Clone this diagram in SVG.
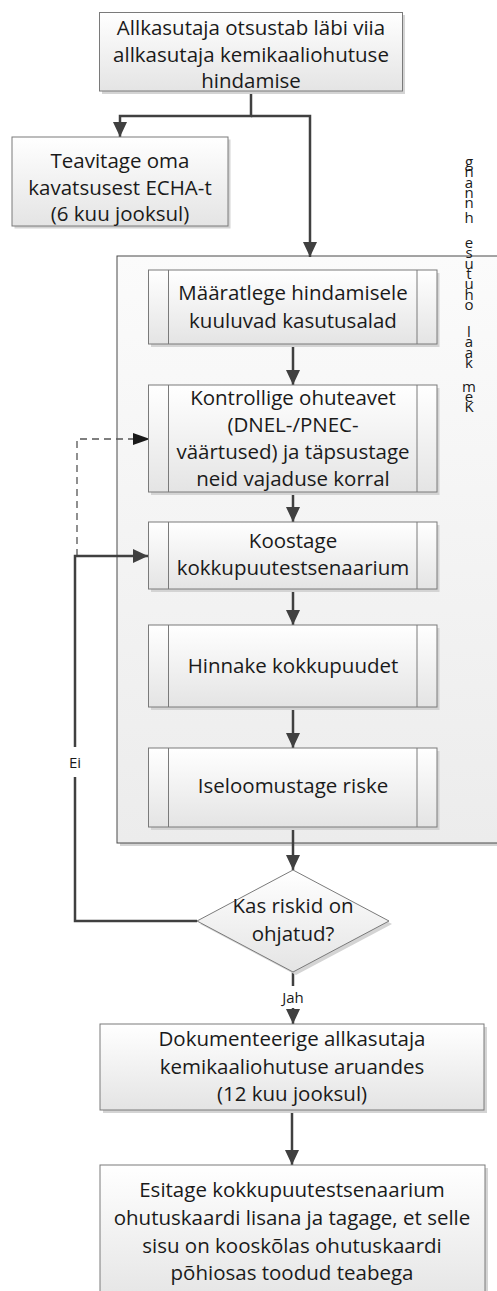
<svg xmlns="http://www.w3.org/2000/svg" width="497" height="1291" viewBox="0 0 497 1291">
<defs>
<linearGradient id="gBox" x1="0" y1="0" x2="0" y2="1">
<stop offset="0" stop-color="#ffffff"/>
<stop offset="1" stop-color="#e4e4e4"/>
</linearGradient>
<linearGradient id="gLane" x1="0" y1="0" x2="0" y2="1">
<stop offset="0" stop-color="#fbfbfb"/>
<stop offset="1" stop-color="#ececec"/>
</linearGradient>
<marker id="arr" markerUnits="userSpaceOnUse" markerWidth="16" markerHeight="16" refX="15" refY="7" orient="auto">
<path d="M0,0 L15,7 L0,14 z" fill="#404040"/>
</marker>
<marker id="arrD" markerUnits="userSpaceOnUse" markerWidth="18" markerHeight="14" refX="17" refY="6" orient="auto">
<path d="M0,0 L17,6 L0,12 z" fill="#1a1a1a"/>
</marker>
</defs>
<style>
.box{fill:url(#gBox);stroke:#7a7a7a;stroke-width:1}
.sh{fill:#d4d4d4}
.band{stroke:#7a7a7a;stroke-width:1}
.t{font-family:"Open Sans","Liberation Sans",sans-serif;font-size:20.5px;fill:#1a1a1a;text-anchor:middle}
.s{font-family:"Open Sans","Liberation Sans",sans-serif;font-size:15px;fill:#1a1a1a;text-anchor:middle}
.v{font-family:"Open Sans","Liberation Sans",sans-serif;font-size:15px;fill:#1a1a1a;writing-mode:vertical-rl;text-orientation:upright;letter-spacing:-9.7px}
.c{fill:none;stroke:#404040;stroke-width:2.5}
.d{fill:none;stroke:#555555;stroke-width:1.3;stroke-dasharray:7,5}
</style>

<g id="lane">
<rect x="120" y="259" width="390" height="587" class="sh"/>
<rect x="117" y="256" width="390" height="587" fill="url(#gLane)" stroke="#4a4a4a" stroke-width="1"/>
<text class="v" x="469" y="151">gnann</text>
<text class="v" x="469" y="207">h</text>
<text class="v" x="469" y="232">esutuho</text>
<text class="v" x="469" y="321">laak</text>
<text class="v" x="469" y="375.5">meK</text>
</g>

<g id="connectors">
<polyline class="c" points="251,91 251,116 120,116 120,137" marker-end="url(#arr)"/>
<polyline class="c" points="251,116 310,116 310,257" marker-end="url(#arr)"/>
<line class="c" x1="293" y1="344" x2="293" y2="385" marker-end="url(#arr)"/>
<line class="c" x1="293" y1="492" x2="293" y2="522" marker-end="url(#arr)"/>
<line class="c" x1="293" y1="589" x2="293" y2="625" marker-end="url(#arr)"/>
<line class="c" x1="293" y1="707" x2="293" y2="748" marker-end="url(#arr)"/>
<line class="c" x1="293" y1="827" x2="293" y2="870" marker-end="url(#arr)"/>
<polyline class="d" points="77,556 77,439 150,439" marker-end="url(#arrD)"/>
<polyline class="c" points="197,921 75,921 75,556 148,556" marker-end="url(#arr)"/>
<line class="c" x1="293" y1="972" x2="293" y2="1024" marker-end="url(#arr)"/>
<line class="c" x1="292" y1="1110" x2="292" y2="1165" marker-end="url(#arr)"/>
<rect x="63" y="747" width="24" height="30" fill="#ffffff"/>
<text class="s" x="75" y="768">Ei</text>
<rect x="278" y="986" width="30" height="22" fill="#ffffff"/>
<text class="s" x="293" y="1003">Jah</text>
</g>

<g id="n_start">
<rect x="102" y="15" width="303" height="79" class="sh"/>
<rect x="99.5" y="12.5" width="303" height="78.5" class="box"/>
<text class="t"><tspan x="251" y="35">Allkasutaja otsustab läbi viia</tspan><tspan x="251" y="62">allkasutaja kemikaaliohutuse</tspan><tspan x="251" y="88">hindamise</tspan></text>
</g>

<g id="n_teavitage">
<rect x="14.5" y="139.5" width="216" height="89" class="sh"/>
<rect x="12" y="137" width="216" height="89" class="box"/>
<text class="t"><tspan x="120" y="168">Teavitage oma</tspan><tspan x="120" y="195">kavatsusest ECHA-t</tspan><tspan x="120" y="221">(6 kuu jooksul)</tspan></text>
</g>

<g id="n_maaratlege">
<rect x="151" y="273" width="288.5" height="74" class="sh"/>
<rect x="148.5" y="270" width="288.5" height="74" class="box"/>
<line class="band" x1="168.5" y1="270" x2="168.5" y2="344"/>
<line class="band" x1="417" y1="270" x2="417" y2="344"/>
<text class="t"><tspan x="293" y="300">Määratlege hindamisele</tspan><tspan x="293" y="328">kuuluvad kasutusalad</tspan></text>
</g>

<g id="n_kontrollige">
<rect x="151" y="388" width="288.5" height="107" class="sh"/>
<rect x="148.5" y="385" width="288.5" height="107" class="box"/>
<line class="band" x1="168.5" y1="385" x2="168.5" y2="492"/>
<line class="band" x1="417" y1="385" x2="417" y2="492"/>
<text class="t"><tspan x="293" y="405">Kontrollige ohuteavet</tspan><tspan x="293" y="432">(DNEL-/PNEC-</tspan><tspan x="293" y="459">väärtused) ja täpsustage</tspan><tspan x="293" y="486">neid vajaduse korral</tspan></text>
</g>

<g id="n_koostage">
<rect x="151" y="525" width="288.5" height="67" class="sh"/>
<rect x="148.5" y="522" width="288.5" height="67" class="box"/>
<line class="band" x1="168.5" y1="522" x2="168.5" y2="589"/>
<line class="band" x1="417" y1="522" x2="417" y2="589"/>
<text class="t"><tspan x="293" y="548">Koostage</tspan><tspan x="293" y="575">kokkupuutestsenaarium</tspan></text>
</g>

<g id="n_hinnake">
<rect x="151" y="628" width="288.5" height="82" class="sh"/>
<rect x="148.5" y="625" width="288.5" height="82" class="box"/>
<line class="band" x1="168.5" y1="625" x2="168.5" y2="707"/>
<line class="band" x1="417" y1="625" x2="417" y2="707"/>
<text class="t" x="293" y="673">Hinnake kokkupuudet</text>
</g>

<g id="n_iseloomustage">
<rect x="151" y="751" width="288.5" height="79" class="sh"/>
<rect x="148.5" y="748" width="288.5" height="79" class="box"/>
<line class="band" x1="168.5" y1="748" x2="168.5" y2="827"/>
<line class="band" x1="417" y1="748" x2="417" y2="827"/>
<text class="t" x="293" y="793">Iseloomustage riske</text>
</g>

<g id="n_kas">
<polygon points="296,873 392,924 296,975 200,924" class="sh"/>
<polygon points="293,870 389,921 293,972 197,921" class="box"/>
<text class="t"><tspan x="293" y="913">Kas riskid on</tspan><tspan x="293" y="941">ohjatud?</tspan></text>
</g>

<g id="n_dokumenteerige">
<rect x="103" y="1027" width="384" height="86" class="sh"/>
<rect x="100" y="1024" width="384" height="86" class="box"/>
<text class="t"><tspan x="292" y="1046">Dokumenteerige allkasutaja</tspan><tspan x="292" y="1074">kemikaaliohutuse aruandes</tspan><tspan x="292" y="1101">(12 kuu jooksul)</tspan></text>
</g>

<g id="n_esitage">
<rect x="103" y="1168" width="385" height="140" class="sh"/>
<rect x="100" y="1165" width="385" height="140" class="box"/>
<text class="t"><tspan x="292" y="1197">Esitage kokkupuutestsenaarium</tspan><tspan x="292" y="1225">ohutuskaardi lisana ja tagage, et selle</tspan><tspan x="292" y="1253">sisu on kooskõlas ohutuskaardi</tspan><tspan x="292" y="1280">põhiosas toodud teabega</tspan></text>
</g>
</svg>
